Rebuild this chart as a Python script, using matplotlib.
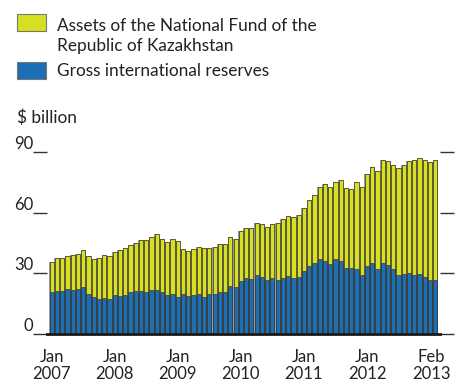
import matplotlib
matplotlib.use("Agg")
import matplotlib.pyplot as plt
from matplotlib.patches import Rectangle
import matplotlib.transforms as mtransforms
import numpy as np

# monthly, Jan 2007 .. Feb 2013 ($ billion)
total = [35.4, 37.4, 37.4, 38.5, 39.0, 39.8, 41.3, 38.4, 37.0, 37.4, 38.9, 38.4,
         40.5, 41.5, 42.3, 43.8, 45.2, 46.7, 46.7, 48.2, 49.3, 47.2, 45.7, 47.2,
         46.1, 41.8, 40.8, 41.8, 42.8, 42.3, 42.3, 43.1, 44.3, 44.3, 48.0, 47.2,
         50.7, 52.6, 52.3, 55.1, 54.4, 53.0, 54.6, 55.1, 57.0, 58.2, 57.9, 58.9,
         62.3, 66.1, 68.9, 72.6, 74.1, 72.8, 75.4, 76.2, 72.1, 71.5, 75.1, 72.6,
         79.2, 82.6, 80.5, 86.1, 85.6, 83.6, 82.0, 83.6, 85.4, 86.1, 87.0, 86.1,
         85.2, 86.1]
reserves = [20.7, 21.5, 21.5, 22.1, 21.6, 22.1, 23.3, 19.8, 18.2, 17.2, 18.0, 17.5,
            19.2, 19.0, 19.3, 20.7, 21.3, 21.3, 21.0, 21.6, 21.8, 20.8, 19.2, 19.7,
            18.2, 19.7, 18.9, 19.3, 19.7, 18.5, 19.8, 19.8, 20.7, 20.7, 23.8, 23.1,
            26.1, 27.5, 27.0, 29.2, 28.2, 26.6, 27.5, 26.7, 27.7, 28.9, 27.7, 28.2,
            31.1, 33.5, 34.9, 36.9, 35.9, 34.4, 36.9, 35.9, 32.6, 32.6, 32.0, 29.0,
            33.4, 35.2, 32.1, 34.9, 34.1, 32.1, 29.0, 29.5, 30.0, 29.0, 29.5, 28.2,
            26.9, 26.6]
fund = [t - r for t, r in zip(total, reserves)]

tick_pos = [0, 12, 24, 36, 48, 60, 73]
tick_labels = ["Jan\n2007", "Jan\n2008", "Jan\n2009", "Jan\n2010", "Jan\n2011", "Jan\n2012", "Feb\n2013"]

yellow = "#d7df23"
blue = "#1b6fb5"
txt = "#222222"

plt.rcParams['font.family'] = ['Lato', 'DejaVu Sans']

fig = plt.figure(figsize=(4.55, 3.83), dpi=100)
ax = fig.add_axes([47/455, 1 - 334/383, 393/455, 182/383])

x = np.arange(len(total))
# grey strips between bars
ax.bar(x, total, width=1.0, color="#9a9a9a", linewidth=0, zorder=1)
ax.bar(x, reserves, width=0.8, color=blue, edgecolor="#333333", linewidth=0.6, zorder=2)
ax.bar(x, fund, bottom=reserves, width=0.8, color=yellow, edgecolor="#4a4a30", linewidth=0.6, zorder=2)

ax.set_xlim(-0.9, len(total) - 0.1)
ax.set_ylim(0, 90)
for s in ["left", "right", "top"]:
    ax.spines[s].set_visible(False)
ax.spines["bottom"].set_linewidth(2)
ax.spines["bottom"].set_color("#1a1a1a")
ax.spines["bottom"].set_zorder(3)

ax.set_yticks([0, 30, 60, 90])
ax.tick_params(axis="y", which="both", direction="out", length=10, width=1,
               color="#333333", left=True, right=True, labelleft=True, labelright=False,
               labelsize=12, labelcolor=txt, pad=0)
for lab in ax.get_yticklabels():
    lab.set_va("bottom")

ax.set_xticks(tick_pos)
ax.set_xticklabels(tick_labels, linespacing=1.05)
ax.tick_params(axis="x", length=0, labelsize=12, labelcolor=txt, pad=11)
# keep the last label inside the figure
last = ax.get_xticklabels()[-1]
last.set_transform(last.get_transform() + mtransforms.ScaledTranslation(-4/100, 0, fig.dpi_scale_trans))

# legend drawn by hand
fig.patches.append(Rectangle((17/455, 1 - 31/383), 29/455, 17/383, transform=fig.transFigure,
                             facecolor=yellow, edgecolor="#777777", linewidth=0.8))
fig.patches.append(Rectangle((17/455, 1 - 79/383), 29/455, 17/383, transform=fig.transFigure,
                             facecolor=blue, edgecolor="#777777", linewidth=0.8))
fig.text(57/455, 1 - 36/383, "Assets of the National Fund of the\nRepublic of Kazakhstan",
         fontsize=12.4, color=txt, va="center", linespacing=1.35)
fig.text(57/455, 1 - 71/383, "Gross international reserves", fontsize=12.4, color=txt, va="center")
fig.text(17/455, 1 - 118/383, "$ billion", fontsize=12.4, color=txt, va="center")

fig.savefig("out.png", dpi=100)
